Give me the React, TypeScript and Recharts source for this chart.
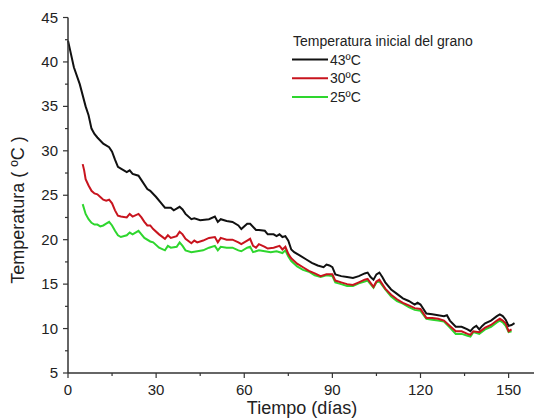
import React from 'react';
import { LineChart, Line, XAxis, YAxis } from 'recharts';

const days43 = [0, 2, 4, 6, 7, 8, 9, 10, 12, 14, 15, 16, 17, 18, 20, 21, 22, 24, 25, 27, 28, 30, 32, 33, 35, 36, 38, 39, 40, 42, 43, 45, 48, 50, 51, 52, 54, 56, 58, 59, 61, 62, 64, 65, 67, 68, 70, 71, 72, 73, 74, 75, 76, 77, 79, 81, 83, 85, 87, 88, 89, 90, 91, 93, 95, 97, 99, 101, 102, 103, 104, 105, 106, 107, 108, 110, 112, 114, 116, 118, 119, 120, 122, 124, 126, 128, 129, 130, 132, 134, 136, 137, 138, 139, 140, 141, 142, 144, 146, 147, 148, 149, 150, 151, 152];
const temp43 = [42.4, 39.4, 37.5, 35, 34, 32.5, 31.9, 31.5, 30.8, 30.4, 29.9, 29, 28.2, 28, 27.6, 27.8, 27.4, 27.2, 26.7, 25.7, 25.5, 24.8, 24, 23.6, 23.6, 23.3, 23.7, 23.4, 22.9, 22.3, 22.4, 22.2, 22.3, 22.6, 22, 22.3, 22.1, 22, 21.6, 21.2, 21.8, 21.8, 21.1, 21.1, 21, 20.6, 20.6, 20.4, 20.6, 20.3, 20.4, 19.9, 18.9, 18.6, 18.2, 17.8, 17.4, 17.1, 16.9, 17.2, 17.1, 16.9, 16.1, 15.9, 15.8, 15.7, 15.9, 16.2, 16.3, 15.8, 15.5, 16.1, 16.3, 15.8, 15.2, 14.4, 13.9, 13.4, 13.1, 12.7, 12.9, 12.7, 11.7, 11.6, 11.5, 11.4, 11.5, 10.9, 10.2, 10.2, 9.9, 9.7, 10.1, 10.3, 9.9, 10.3, 10.6, 10.9, 11.4, 11.6, 11.4, 11, 10.3, 10.4, 10.6];

const days30 = [5, 5.5, 6, 7, 8, 9, 10, 11, 12, 13, 14, 15, 16, 17, 18, 20, 21, 22, 24, 25, 26, 27, 28, 29, 31, 33, 34, 35, 37, 38, 39, 40, 42, 43, 44, 46, 48, 50, 51, 52, 54, 56, 58, 59, 61, 62, 63, 64, 65, 67, 68, 70, 72, 73, 74, 75, 76, 78, 80, 82, 84, 86, 88, 90, 91, 93, 95, 97, 99, 101, 102, 104, 105, 106, 108, 110, 112, 114, 116, 118, 120, 122, 124, 126, 128, 130, 132, 134, 136, 137, 138, 140, 142, 144, 146, 147, 148, 149, 150, 151];
const temp30 = [28.5, 27.8, 26.8, 26.1, 25.5, 25.2, 25.1, 24.8, 24.5, 24.4, 24.5, 24.1, 23.3, 22.7, 22.6, 22.5, 22.9, 22.6, 22.9, 22.5, 22, 21.6, 21.6, 21.2, 20.6, 20.1, 20.5, 20.2, 20.4, 20.9, 20.6, 20.1, 19.6, 19.9, 19.7, 19.9, 20.2, 20.3, 19.7, 20.2, 20, 20, 19.7, 19.5, 19.9, 20.1, 19.3, 19.1, 19.5, 19.2, 19, 19.1, 19.3, 18.9, 19.2, 18.4, 17.9, 17.3, 16.9, 16.5, 16.2, 15.9, 16.1, 16.1, 15.4, 15.2, 15, 14.9, 15.2, 15.5, 15.6, 14.7, 15.3, 15.5, 14.5, 13.8, 13.3, 12.9, 12.6, 12.3, 12.2, 11.2, 11.2, 11.1, 10.9, 10.3, 9.7, 9.7, 9.4, 9.3, 9.7, 9.6, 10.1, 10.4, 10.9, 11.1, 10.9, 10.6, 9.7, 9.9];

const days25 = [5, 6, 7, 8, 9, 10, 11, 12, 13, 14, 15, 16, 17, 18, 20, 21, 22, 24, 25, 26, 28, 29, 31, 33, 34, 35, 37, 38, 39, 40, 42, 44, 46, 48, 50, 51, 52, 54, 56, 58, 59, 61, 62, 63, 65, 67, 69, 71, 73, 74, 75, 76, 78, 80, 82, 84, 86, 88, 90, 91, 93, 95, 97, 99, 101, 102, 104, 105, 106, 108, 110, 112, 114, 116, 118, 120, 122, 124, 126, 128, 130, 132, 134, 136, 137, 138, 140, 142, 144, 146, 147, 148, 149, 150, 151];
const temp25 = [24, 22.9, 22.3, 21.9, 21.7, 21.7, 21.5, 21.6, 21.8, 22, 21.6, 21, 20.5, 20.3, 20.5, 20.8, 20.6, 21, 20.6, 20.2, 19.8, 19.7, 19.1, 18.8, 19.3, 19.1, 19.2, 19.7, 19.3, 18.8, 18.6, 18.7, 18.8, 19.1, 19.3, 18.8, 19.2, 19.1, 19.1, 18.8, 18.7, 19.1, 19.2, 18.6, 18.8, 18.7, 18.6, 18.7, 18.5, 18.8, 18.1, 17.6, 17, 16.6, 16.4, 16, 15.8, 16, 15.9, 15.2, 15, 14.8, 14.8, 15.1, 15.3, 15.4, 14.6, 15.2, 15.3, 14.4, 13.6, 13.1, 12.8, 12.4, 12.1, 12, 11.1, 11, 10.9, 10.8, 10.1, 9.4, 9.4, 9.2, 9.1, 9.6, 9.4, 9.9, 10.2, 10.7, 10.9, 10.7, 10.3, 9.6, 9.7];

const xTicks = [0, 15, 30, 45, 60, 75, 90, 105, 120, 135, 150];
const yTicks = [5, 7.5, 10, 12.5, 15, 17.5, 20, 22.5, 25, 27.5, 30, 32.5, 35, 37.5, 40, 42.5, 45];

const series = [
    { name: '43ºC', color: '#111111', days: days43, temps: temp43 },
    { name: '30ºC', color: '#c8141e', days: days30, temps: temp30 },
    { name: '25ºC', color: '#2ed62e', days: days25, temps: temp25 },
];

const legendTitle = 'Temperatura inicial del grano';
const font = '"Liberation Sans", Arial, sans-serif';
const axisColor = '#333';

const toRows = (days: number[], temps: number[]) => days.map((d, i) => ({ d, t: temps[i] }));

const BottomTick = ({ x, y, payload }: any) => {
    const major = payload.value % 30 === 0;
    return (
        <g>
            <line x1={x} x2={x} y1={y} y2={y + (major ? 5 : 3)} stroke={axisColor} strokeWidth={1.2} />
            {major && (
                <text x={x} y={y + 22} textAnchor="middle" fontSize={15} fontFamily={font} fill="#222">
                    {payload.value}
                </text>
            )}
        </g>
    );
};

const TopTick = ({ x, y, payload }: any) => {
    const major = payload.value % 30 === 0;
    return <line x1={x} x2={x} y1={y} y2={y + (major ? 6 : 3)} stroke={axisColor} strokeWidth={1.2} />;
};

const LeftTick = ({ x, y, payload }: any) => {
    const major = payload.value % 5 === 0;
    return (
        <g>
            <line x1={x} x2={x - (major ? 5 : 3)} y1={y} y2={y} stroke={axisColor} strokeWidth={1.2} />
            {major && (
                <text x={x - 10} y={y + 5} textAnchor="end" fontSize={15} fontFamily={font} fill="#222">
                    {payload.value}
                </text>
            )}
        </g>
    );
};

const RightTick = ({ x, y, payload }: any) => {
    const major = payload.value % 5 === 0;
    return <line x1={x} x2={x - (major ? 7 : 4)} y1={y} y2={y} stroke={axisColor} strokeWidth={1.2} />;
};

export default function App() {
    return (
        <div style={{ position: 'absolute', left: 0, top: 0, width: 534, height: 419, overflow: 'hidden', background: '#fff' }}>
            <LineChart width={543} height={419} margin={{ top: 17.5, right: 5, bottom: 0, left: 0 }}>
                <XAxis
                    xAxisId="bottom"
                    type="number"
                    dataKey="d"
                    domain={[0, 160]}
                    ticks={xTicks}
                    height={46}
                    tickSize={0}
                    tickMargin={0}
                    tickLine={false}
                    axisLine={{ stroke: axisColor, strokeWidth: 1.5 }}
                    tick={(p: any) => <BottomTick {...p} />}
                    interval={0}
                    allowDuplicatedCategory={false}
                    label={{
                        content: () => (
                            <text x={302} y={414} textAnchor="middle" fontSize={18} fontFamily={font} fill="#222">
                                Tiempo (días)
                            </text>
                        ),
                    }}
                />
                <XAxis
                    xAxisId="top"
                    orientation="top"
                    type="number"
                    dataKey="d"
                    domain={[0, 160]}
                    ticks={xTicks}
                    height={0}
                    tickSize={0}
                    tickMargin={0}
                    tickLine={false}
                    axisLine={{ stroke: axisColor, strokeWidth: 1.5 }}
                    tick={(p: any) => <TopTick {...p} />}
                    interval={0}
                    allowDuplicatedCategory={false}
                />
                <YAxis
                    yAxisId="left"
                    type="number"
                    domain={[5, 45]}
                    ticks={yTicks}
                    width={68}
                    tickSize={0}
                    tickMargin={0}
                    tickLine={false}
                    axisLine={{ stroke: axisColor, strokeWidth: 1.5 }}
                    tick={(p: any) => <LeftTick {...p} />}
                    interval={0}
                    label={{
                        content: () => (
                            <text
                                x={24}
                                y={210}
                                transform="rotate(-90 24 210)"
                                textAnchor="middle"
                                fontSize={18}
                                fontFamily={font}
                                fill="#222"
                            >
                                Temperatura ( ºC )
                            </text>
                        ),
                    }}
                />
                <YAxis
                    yAxisId="right"
                    orientation="right"
                    type="number"
                    domain={[5, 45]}
                    ticks={yTicks}
                    width={0}
                    tickSize={0}
                    tickMargin={0}
                    tickLine={false}
                    axisLine={{ stroke: axisColor, strokeWidth: 1.5 }}
                    tick={(p: any) => <RightTick {...p} />}
                    interval={0}
                />
                {[...series].reverse().map((s) => (
                    <Line
                        key={s.name}
                        xAxisId="bottom"
                        yAxisId="left"
                        data={toRows(s.days, s.temps)}
                        dataKey="t"
                        name={s.name}
                        type="linear"
                        stroke={s.color}
                        strokeWidth={2}
                        dot={false}
                        activeDot={false}
                        isAnimationActive={false}
                    />
                ))}
            </LineChart>
            <svg width={534} height={419} style={{ position: 'absolute', left: 0, top: 0, pointerEvents: 'none' }}>
                <text x={293} y={46} fontSize={14} fontFamily={font} fill="#222">
                    {legendTitle}
                </text>
                {series.map((s, i) => (
                    <g key={s.name}>
                        <line x1={292} x2={328} y1={59.5 + i * 18.7} y2={59.5 + i * 18.7} stroke={s.color} strokeWidth={2} />
                        <text x={330} y={64.5 + i * 18.7} fontSize={14} fontFamily={font} fill="#222">
                            {s.name}
                        </text>
                    </g>
                ))}
            </svg>
        </div>
    );
}
